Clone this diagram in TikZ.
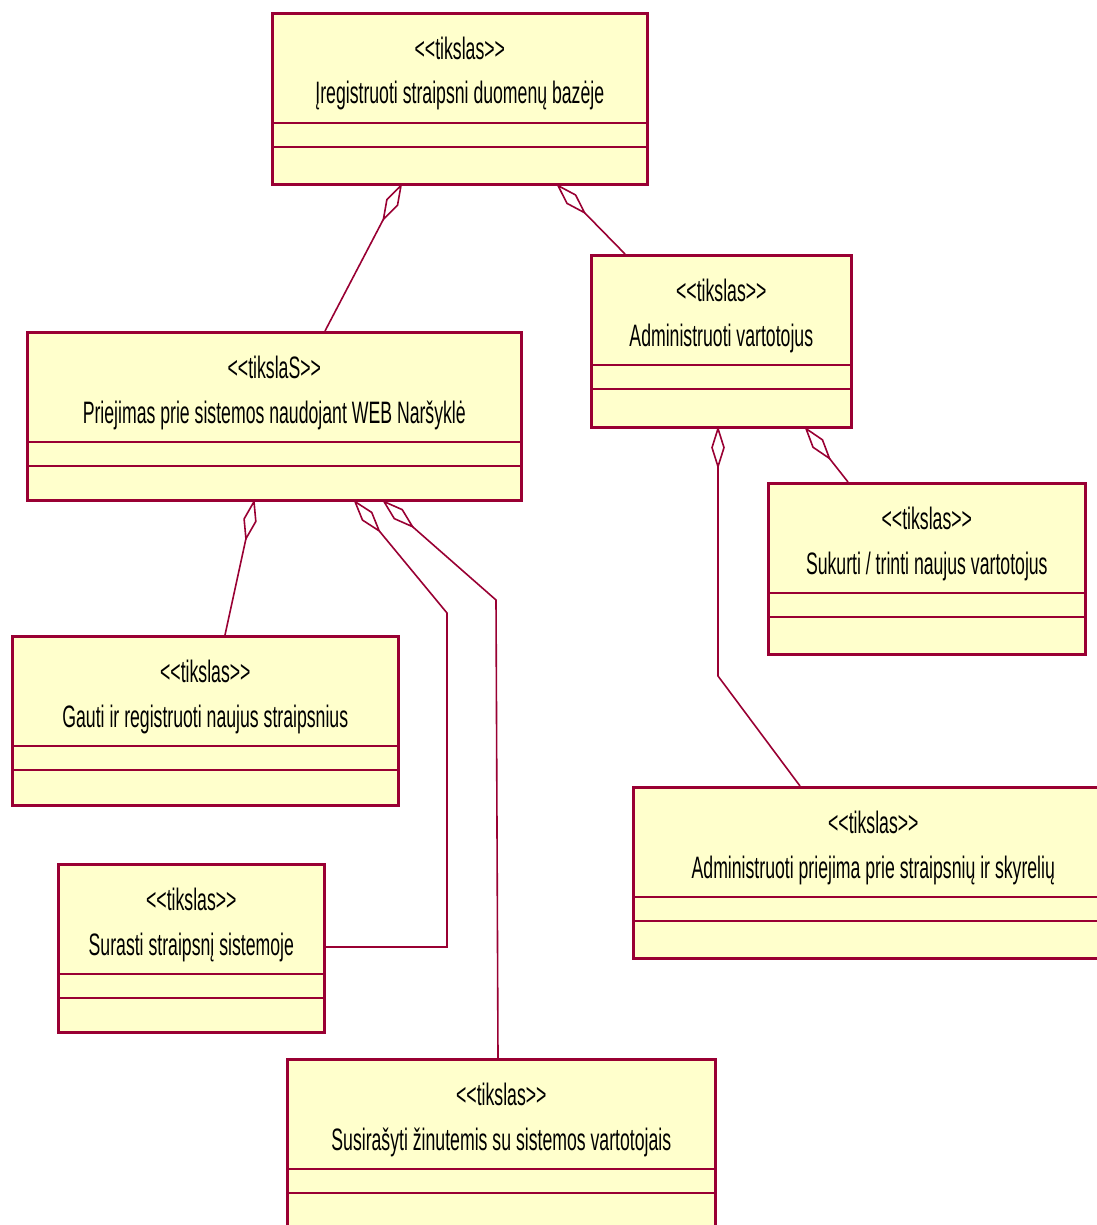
\documentclass[tikz,border=0pt]{standalone}
\usepackage{fontspec}
\setmainfont{Liberation Sans}[FakeStretch=0.57, Ligatures=TeXOff]
\usepackage{tikz}
\usetikzlibrary{positioning, calc}

\definecolor{rose}{RGB}{153,0,51}
\definecolor{geltona}{RGB}{255,255,204}

\tikzset{
    klase/.style={draw=rose, fill=geltona, line width=2.6pt, rectangle, inner sep=0pt, anchor=north west},
    skirtukas/.style={draw=rose, line width=2.6pt},
    rysys/.style={draw=rose, line width=1.6pt},
    tekstas/.style={font=\fontsize{31}{33}\selectfont, inner sep=0pt}
}

% klasė: vardas, x, y, plotis, aukštis, stereotipas, pavadinimas
\newcommand{\klase}[7]{%
    \node[klase, minimum width=#4pt, minimum height=#5pt] (#1) at (#2,#3) {};
    \draw[skirtukas] ($(#1.north west)+(0,111)$) -- ($(#1.north east)+(0,111)$);
    \draw[skirtukas] ($(#1.north west)+(0,135)$) -- ($(#1.north east)+(0,135)$);
    \node[tekstas] (#1-s) at ($(#1.north)+(0,36)$) {#6};
    \node[tekstas] (#1-t) at ($(#1.north)+(0,84)$) {#7};
}

% agregacijos deimantas: pradžia, kryptis, smaigalio vardas
\newcommand{\agreg}[3]{%
    \coordinate (m) at ($(#1)!19pt!(#2)$);
    \coordinate (#3) at ($(#1)!38pt!(#2)$);
    \draw[rysys, fill=white] (#1) -- ($(m)!6pt!90:(#2)$) -- (#3) -- ($(m)!6pt!-90:(#2)$) -- cycle;
}

\begin{document}
\begin{tikzpicture}[x=1pt, y=-1pt]

    \useasboundingbox (0,0) rectangle (1096,1225);

    % Klasės
    \klase{top}{271}{12}{375}{171}{<<tikslas>>}{Įregistruoti straipsni duomenų bazėje}
    \klase{prie}{26}{331}{494}{168}{<<tikslaS>>}{Priejimas prie sistemos naudojant WEB Naršyklė}
    \klase{admv}{590}{254}{260}{172}{<<tikslas>>}{Administruoti vartotojus}
    \klase{suk}{767}{482}{317}{171}{<<tikslas>>}{Sukurti / trinti naujus vartotojus}
    \klase{gauti}{11}{635}{386}{169}{<<tikslas>>}{Gauti ir registruoti naujus straipsnius}
    \klase{admp}{632}{786}{480}{171}{<<tikslas>>}{Administruoti priejima prie straipsnių ir skyrelių}
    \klase{sur}{57}{863}{266}{168}{<<tikslas>>}{Surasti straipsnį sistemoje}
    \klase{susir}{286}{1058}{428}{180}{<<tikslas>>}{Susirašyti žinutemis su sistemos vartotojais}

    % Jungimo taškai
    \coordinate (top-a) at ($(top.south west)+(130,0)$);
    \coordinate (top-b) at ($(top.south west)+(287,0)$);
    \coordinate (prie-a) at ($(prie.south west)+(228,0)$);
    \coordinate (prie-b) at ($(prie.south west)+(329,0)$);
    \coordinate (prie-c) at ($(prie.south west)+(358,0)$);
    \coordinate (admv-a) at ($(admv.south west)+(128,0)$);
    \coordinate (admv-b) at ($(admv.south west)+(216,0)$);
    \coordinate (lenk1) at (447,613);
    \coordinate (lenk2) at (496,600);
    \coordinate (lenk3) at (718,676);

    % Ryšiai
    \agreg{top-a}{$(prie.north west)+(299,0)$}{d1}
    \draw[rysys] (d1) -- ($(prie.north west)+(299,0)$);

    \agreg{top-b}{$(admv.north west)+(35,0)$}{d2}
    \draw[rysys] (d2) -- ($(admv.north west)+(35,0)$);

    \agreg{prie-a}{$(gauti.north west)+(214,0)$}{d3}
    \draw[rysys] (d3) -- ($(gauti.north west)+(214,0)$);

    \agreg{prie-b}{lenk1}{d4}
    \draw[rysys] (d4) -- (lenk1) -- (lenk1 |- sur-t) -- (sur.east |- sur-t);

    \agreg{prie-c}{lenk2}{d5}
    \draw[rysys] (d5) -- (lenk2) -- ($(susir.north west)+(212,0)$);

    \agreg{admv-a}{lenk3}{d6}
    \draw[rysys] (d6) -- (lenk3) -- ($(admp.north west)+(168,0)$);

    \agreg{admv-b}{$(suk.north west)+(81,0)$}{d7}
    \draw[rysys] (d7) -- ($(suk.north west)+(81,0)$);

\end{tikzpicture}
\end{document}
